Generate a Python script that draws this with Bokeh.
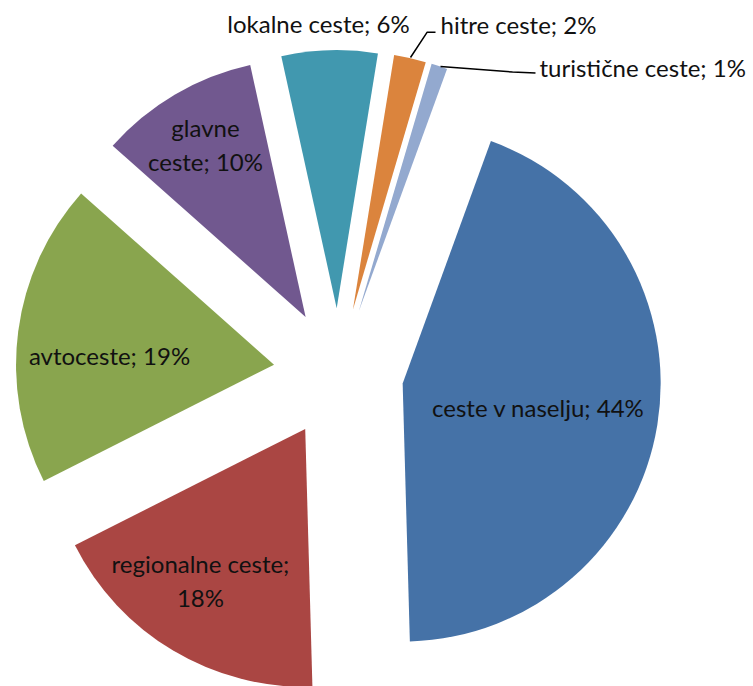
import numpy as np
from bokeh.plotting import figure
from bokeh.models import Range1d, ColumnDataSource
from bokeh.core.properties import value
from bokeh.embed import file_html
from bokeh.resources import INLINE

# ---- data ----
categories = ["ceste v naselju", "regionalne ceste", "avtoceste", "glavne ceste",
              "lokalne ceste", "hitre ceste", "turistične ceste"]
shares = [44, 18, 19, 10, 6, 2, 1]
colors = ["#4572A7", "#AA4643", "#89A54E", "#71588F", "#4198AF", "#DB843D", "#93A9CF"]
label_texts = ["ceste v naselju; 44%", "regionalne ceste;\n18%", "avtoceste; 19%",
               "glavne\nceste; 10%", "lokalne ceste; 6%", "hitre ceste; 2%",
               "turistične ceste; 1%"]

# ---- layout ----
W, H = 753, 686
OFF = 0


def px(X, Y):
    """reference pixel -> data coordinate"""
    return X - OFF, (H + OFF) - Y


CX, CY = px(338, 372.6)
R = 258
EXPLODE = 65
START = 20.0  # degrees clockwise from 12 o'clock

total = float(sum(shares))
frac = np.array(shares) / total * 360.0
ends = START + np.cumsum(frac)
starts = ends - frac
mids = np.radians((starts + ends) / 2)
wx = CX + EXPLODE * np.sin(mids)
wy = CY + EXPLODE * np.cos(mids)

src = ColumnDataSource(dict(
    x=wx, y=wy,
    start=np.radians(90 - ends), end=np.radians(90 - starts),
    color=colors, name=categories,
))

p = figure(width=W, height=H, x_range=Range1d(0, W), y_range=Range1d(0, H),
           output_backend="svg", toolbar_location=None, min_border=0)
p.axis.visible = False
p.grid.visible = False
p.outline_line_color = None
p.background_fill_color = "white"
p.border_fill_color = "white"

p.wedge(x="x", y="y", radius=R, start_angle="start", end_angle="end",
        fill_color="color", line_color=None, source=src)

FONT = value("Lato")
FS = "24px"

# label anchor positions (reference pixels)
inside_pos = {0: (538, 407), 1: (200, 580), 2: (109, 355), 3: (205, 144), 4: (318, 23)}
left_pos = {5: (440, 24), 6: (539, 67)}

ix, iy, it = [], [], []
for i, (X, Y) in inside_pos.items():
    x, y = px(X, Y)
    ix.append(x); iy.append(y); it.append(label_texts[i])
p.text(x=ix, y=iy, text=it, text_font=FONT, text_font_size=FS, text_color="#111111",
       text_align="center", text_baseline="middle", text_line_height=1.2)

lx, ly, lt = [], [], []
for i, (X, Y) in left_pos.items():
    x, y = px(X, Y)
    lx.append(x); ly.append(y); lt.append(label_texts[i])
p.text(x=lx, y=ly, text=lt, text_font=FONT, text_font_size=FS, text_color="#111111",
       text_align="left", text_baseline="middle")

# leader lines
for pts in ([(410, 57), (426.7, 31.7), (435, 31.7)],
            [(440, 66), (512, 71.5), (535, 72.5)]):
    xs = [px(a, b)[0] for a, b in pts]
    ys = [px(a, b)[1] for a, b in pts]
    p.line(xs, ys, line_color="black", line_width=1.5)

open("out.html", "w").write(file_html(p, INLINE))
